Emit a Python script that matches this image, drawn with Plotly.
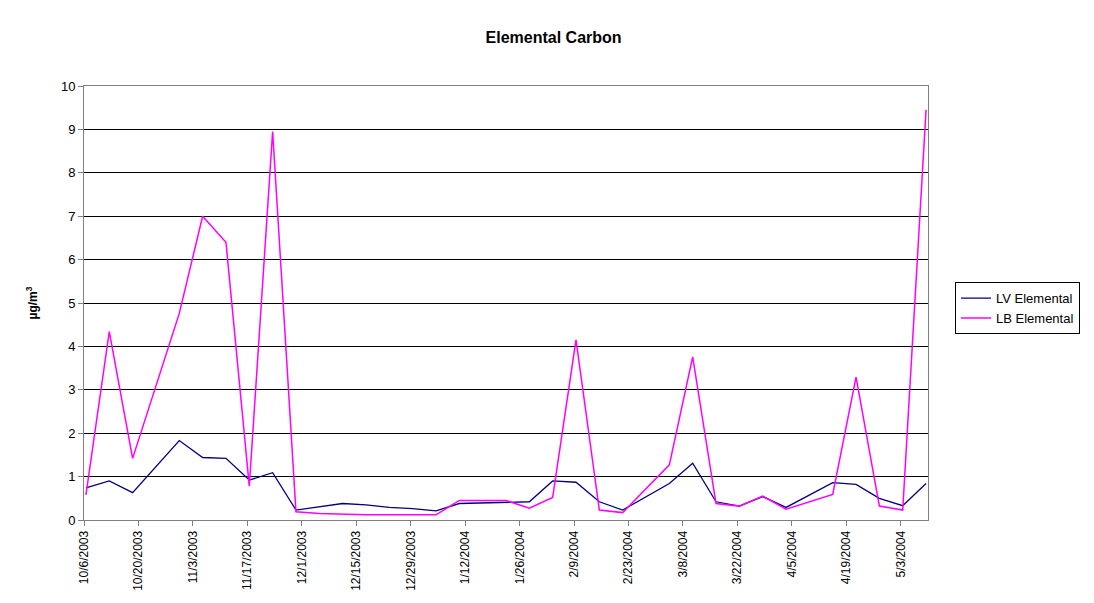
import pandas as pd
import plotly.graph_objects as go

# Sample dates (1-in-6 day schedule) and concentrations, µg/m³
dates_lv = ["2003-10-06", "2003-10-12", "2003-10-18", "2003-10-30", "2003-11-05",
            "2003-11-11", "2003-11-17", "2003-11-23", "2003-11-29", "2003-12-11",
            "2003-12-17", "2003-12-23", "2003-12-29", "2004-01-04", "2004-01-10",
            "2004-01-22", "2004-01-28", "2004-02-03", "2004-02-09", "2004-02-15",
            "2004-02-21", "2004-03-04", "2004-03-10", "2004-03-16", "2004-03-22",
            "2004-03-28", "2004-04-03", "2004-04-15", "2004-04-21", "2004-04-27",
            "2004-05-03", "2004-05-09"]
lv_elemental = [0.74, 0.90, 0.63, 1.83, 1.44, 1.42, 0.92, 1.09, 0.23, 0.38,
                0.35, 0.29, 0.26, 0.21, 0.38, 0.40, 0.42, 0.90, 0.87, 0.42,
                0.23, 0.84, 1.31, 0.42, 0.32, 0.54, 0.29, 0.86, 0.82, 0.50,
                0.33, 0.84]

dates_lb = ["2003-10-06", "2003-10-12", "2003-10-18", "2003-10-30", "2003-11-05",
            "2003-11-11", "2003-11-17", "2003-11-23", "2003-11-29", "2003-12-05",
            "2003-12-17", "2003-12-29", "2004-01-04", "2004-01-10", "2004-01-22",
            "2004-01-28", "2004-02-03", "2004-02-09", "2004-02-15", "2004-02-21",
            "2004-03-04", "2004-03-10", "2004-03-16", "2004-03-22", "2004-03-28",
            "2004-04-03", "2004-04-15", "2004-04-21", "2004-04-27", "2004-05-03",
            "2004-05-09"]
lb_elemental = [0.58, 4.34, 1.42, 4.76, 7.00, 6.40, 0.78, 8.95, 0.19, 0.15,
                0.12, 0.11, 0.12, 0.45, 0.45, 0.27, 0.52, 4.15, 0.23, 0.17,
                1.27, 3.76, 0.38, 0.32, 0.55, 0.25, 0.59, 3.29, 0.32, 0.23,
                9.45]

tick_dates = ["2003-10-06", "2003-10-20", "2003-11-03", "2003-11-17", "2003-12-01",
              "2003-12-15", "2003-12-29", "2004-01-12", "2004-01-26", "2004-02-09",
              "2004-02-23", "2004-03-08", "2004-03-22", "2004-04-05", "2004-04-19",
              "2004-05-03"]
tick_labels = ["10/6/2003", "10/20/2003", "11/3/2003", "11/17/2003", "12/1/2003",
               "12/15/2003", "12/29/2003", "1/12/2004", "1/26/2004", "2/9/2004",
               "2/23/2004", "3/8/2004", "3/22/2004", "4/5/2004", "4/19/2004",
               "5/3/2004"]

# Each sample sits in the middle of its day, ticks mark the start of the day
half_day = pd.Timedelta(hours=12)
x_lv = pd.to_datetime(dates_lv) + half_day
x_lb = pd.to_datetime(dates_lb) + half_day
tick_pos = pd.to_datetime(tick_dates)
x_range = [pd.Timestamp("2003-10-06"), pd.Timestamp("2004-05-10")]

font = "Liberation Sans, Arial, sans-serif"

fig = go.Figure()
fig.add_trace(go.Scatter(x=x_lv, y=lv_elemental, mode="lines", name="LV Elemental",
                         line=dict(color="#000080", width=1.3)))
fig.add_trace(go.Scatter(x=x_lb, y=lb_elemental, mode="lines", name="LB Elemental",
                         line=dict(color="#FF00FF", width=1.5)))

fig.update_layout(
    width=1094, height=603,
    margin=dict(l=84, r=166, t=86, b=83),
    paper_bgcolor="white", plot_bgcolor="white",
    font=dict(family=font, color="#000000"),
    title=dict(text="<b>Elemental Carbon</b>", x=0.506, xanchor="center",
               y=0.938, yanchor="middle", font=dict(size=16, family=font)),
    showlegend=True,
    legend=dict(x=1.032, y=0.548, xanchor="left", yanchor="top",
                bordercolor="#000000", borderwidth=1, bgcolor="white",
                font=dict(size=13, family=font), tracegroupgap=0),
)
fig.update_xaxes(
    range=x_range, tickvals=tick_pos, ticktext=tick_labels, tickangle=-90,
    ticks="outside", ticklen=5, tickcolor="#808080",
    tickfont=dict(size=12, family=font),
    showgrid=False, showline=True, linecolor="#808080", linewidth=1, mirror=True,
    zeroline=False,
)
fig.update_yaxes(
    range=[0, 10], dtick=1, tick0=0,
    ticks="outside", ticklen=5, tickcolor="#808080",
    tickfont=dict(size=13, family=font),
    showgrid=True, gridcolor="#000000", gridwidth=1,
    showline=True, linecolor="#808080", linewidth=1, mirror=True, zeroline=False,
    title=dict(text="<b>µg/m<sup>3</sup></b>", font=dict(size=12, family=font), standoff=20),
)

fig.write_html("out.html")
